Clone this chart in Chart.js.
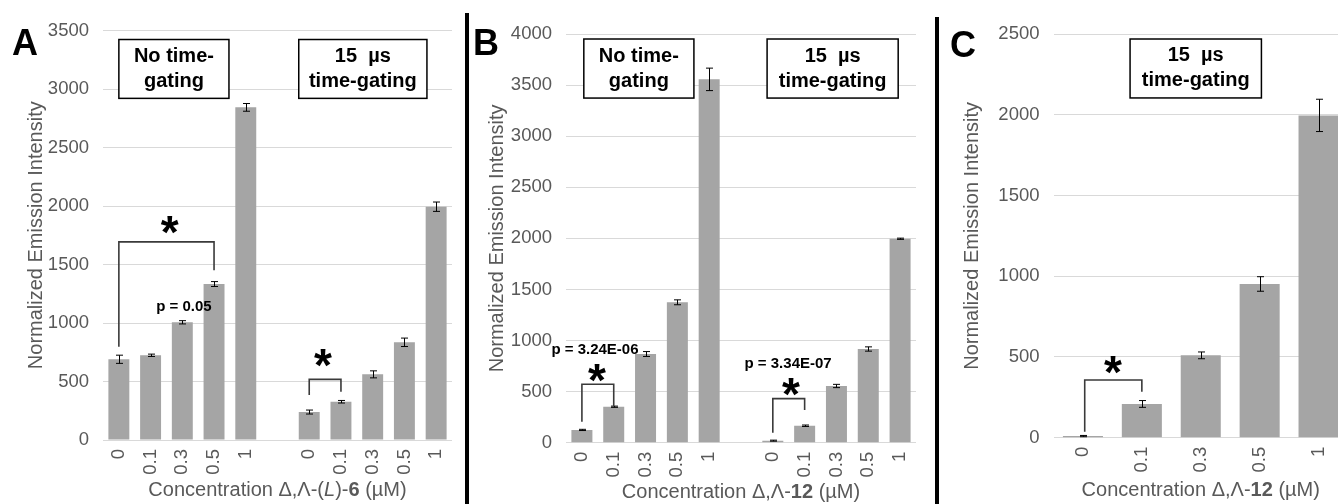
<!DOCTYPE html>
<html><head><meta charset="utf-8">
<script src="https://cdn.jsdelivr.net/npm/chart.js@4.4.1/dist/chart.umd.min.js"></script>
<style>
html,body{margin:0;padding:0;background:#fff;overflow:hidden;width:1338px;height:504px;position:relative;}
canvas{position:absolute;top:0;}
.sep{position:absolute;background:#000;width:4px;}
</style></head><body>
<canvas id="cA" width="460" height="504" style="left:0px"></canvas>
<canvas id="cB" width="460" height="504" style="left:460px"></canvas>
<canvas id="cC" width="420" height="504" style="left:930px"></canvas>
<div class="sep" style="left:465px;top:13px;height:491px"></div>
<div class="sep" style="left:935px;top:17px;height:487px"></div>
<script>
// ---------- data ----------
const categoriesAB = ['0','0.1','0.3','0.5','1','','0','0.1','0.3','0.5','1'];
const categoriesC = ['0','0.1','0.3','0.5','1'];
const valuesA = [690, 724, 1006, 1333, 2843, null, 239, 327, 561, 835, 1994];
const errorsA = [35, 10, 14, 21, 33, null, 17, 11, 30, 36, 40];
const valuesB = [125, 352, 868, 1374, 3556, null, 20, 166, 555, 917, 1996];
const errorsB = [6, 6, 24, 24, 110, null, 5, 7, 16, 21, 6];
const valuesC = [10, 209, 510, 952, 1996];
const errorsC = [4, 21, 21, 45, 100];
const yTicksA = [0, 500, 1000, 1500, 2000, 2500, 3000, 3500];
const yTicksB = [0, 500, 1000, 1500, 2000, 2500, 3000, 3500, 4000];
const yTicksC = [0, 500, 1000, 1500, 2000, 2500];
const yTitle = 'Normalized Emission Intensity';
const xTitleA = [['Concentration \u0394,\u039B-(', ''], ['L', 'italic'], [')-', ''], ['6', 'bold'], [' (\u00B5M)', '']];
const xTitleBC = [['Concentration \u0394,\u039B-', ''], ['12', 'bold'], [' (\u00B5M)', '']];

// ---------- annotations (category index / data value) ----------
const annA = {
  letter: 'A',
  boxes: [{lines: ['No time-', 'gating'], i0: 0.0, i1: 3.47, v0: 3423, v1: 2920},
          {lines: ['15  \u00B5s', 'time-gating'], i0: 5.67, i1: 9.71, v0: 3423, v1: 2920}],
  brackets: [{i0: 0, i1: 3, top: 1693, e0: 797, e1: 1451},
             {i0: 6, i1: 7, top: 518, e0: 384, e1: 412}],
  stars: [{i: 1.6, v: 1835}, {i: 6.43, v: 700}],
  pvals: [{text: 'p = 0.05', i: 2.05, v: 1135}]
};
const annB = {
  letter: 'B',
  boxes: [{lines: ['No time-', 'gating'], i0: 0.06, i1: 3.52, v0: 3951, v1: 3373},
          {lines: ['15  \u00B5s', 'time-gating'], i0: 5.82, i1: 9.94, v0: 3951, v1: 3373}],
  brackets: [{i0: 0, i1: 1, top: 572, e0: 205, e1: 359},
             {i0: 6, i1: 7, top: 431, e0: 98, e1: 320}],
  stars: [{i: 0.47, v: 685}, {i: 6.57, v: 548}],
  pvals: [{text: 'p = 3.24E-06', i: 0.41, v: 907}, {text: 'p = 3.34E-07', i: 6.48, v: 770}]
};
const annC = {
  letter: 'C',
  boxes: [{lines: ['15  \u00B5s', 'time-gating'], i0: 0.80, i1: 3.03, v0: 2469, v1: 2104}],
  brackets: [{i0: 0.03, i1: 1, top: 357, e0: 37, e1: 285}],
  stars: [{i: 0.51, v: 450}],
  pvals: []
};

const FAM = '"Liberation Sans", Arial, sans-serif';
const GRAY = '#595959';

const drawPlugin = {
  id: 'extras',
  afterDatasetsDraw(chart) {
    const o = chart.options.plugins.extras;
    const ctx = chart.ctx, ys = chart.scales.y;
    const meta = chart.getDatasetMeta(0);
    ctx.save();
    ctx.strokeStyle = '#000'; ctx.lineWidth = 1;
    o.errors.forEach((e, i) => {
      const v = chart.data.datasets[0].data[i];
      if (e == null || v == null) return;
      const x = Math.round(meta.data[i].x) + 0.5;
      const yt = ys.getPixelForValue(v + e), yb = ys.getPixelForValue(v - e);
      ctx.beginPath();
      ctx.moveTo(x, yt); ctx.lineTo(x, yb);
      ctx.moveTo(x - 3.5, yt); ctx.lineTo(x + 3.5, yt);
      ctx.moveTo(x - 3.5, yb); ctx.lineTo(x + 3.5, yb);
      ctx.stroke();
    });
    ctx.restore();
  },
  afterDraw(chart) {
    const o = chart.options.plugins.extras;
    const a = o.ann;
    const ctx = chart.ctx, xs = chart.scales.x, ys = chart.scales.y;
    const X = i => xs.getPixelForValue(i), Y = v => ys.getPixelForValue(v);
    ctx.save();
    ctx.fillStyle = '#000';
    ctx.font = 'bold 36px ' + FAM;
    ctx.textAlign = 'left'; ctx.textBaseline = 'alphabetic';
    ctx.fillText(a.letter, o.letterX, o.letterY);
    a.boxes.forEach(b => {
      const x0 = X(b.i0), x1 = X(b.i1), y0 = Y(b.v0), y1 = Y(b.v1);
      ctx.fillStyle = '#fff';
      ctx.fillRect(x0, y0, x1 - x0, y1 - y0);
      ctx.strokeStyle = '#000'; ctx.lineWidth = 1.5;
      ctx.strokeRect(x0, y0, x1 - x0, y1 - y0);
      ctx.fillStyle = '#000';
      ctx.font = 'bold 20px ' + FAM;
      ctx.textAlign = 'center'; ctx.textBaseline = 'middle';
      const cx = (x0 + x1) / 2, cy = (y0 + y1) / 2;
      const n = b.lines.length;
      b.lines.forEach((t, k) => ctx.fillText(t, cx, cy + (k - (n - 1) / 2) * 25));
    });
    ctx.strokeStyle = '#3a3a3a'; ctx.lineWidth = 1.6;
    a.brackets.forEach(b => {
      const x0 = X(b.i0), x1 = X(b.i1), yt = Y(b.top);
      ctx.beginPath();
      ctx.moveTo(x0, Y(b.e0)); ctx.lineTo(x0, yt); ctx.lineTo(x1, yt); ctx.lineTo(x1, Y(b.e1));
      ctx.stroke();
    });
    ctx.fillStyle = '#000';
    ctx.font = 'bold 46px ' + FAM;
    ctx.textAlign = 'center'; ctx.textBaseline = 'alphabetic';
    a.stars.forEach(s => {
      const m = ctx.measureText('*');
      ctx.fillText('*', X(s.i), Y(s.v) + (m.actualBoundingBoxAscent - m.actualBoundingBoxDescent) / 2);
    });
    ctx.font = 'bold 15px ' + FAM;
    ctx.textBaseline = 'middle';
    a.pvals.forEach(p => ctx.fillText(p.text, X(p.i), Y(p.v)));
    const segs = o.xTitle;
    const fontOf = st => (st === 'bold' ? 'bold ' : st === 'italic' ? 'italic ' : '') + '20px ' + FAM;
    let total = 0;
    segs.forEach(([t, st]) => { ctx.font = fontOf(st); total += ctx.measureText(t).width; });
    let x = (chart.chartArea.left + chart.chartArea.right) / 2 - total / 2;
    ctx.fillStyle = GRAY; ctx.textAlign = 'left'; ctx.textBaseline = 'middle';
    segs.forEach(([t, st]) => { ctx.font = fontOf(st); ctx.fillText(t, x, o.xTitleY); x += ctx.measureText(t).width; });
    ctx.restore();
  }
};

function makeChart(id, labels, values, errors, yTicks, ann, cfg) {
  return new Chart(document.getElementById(id), {
    type: 'bar',
    data: {labels: labels, datasets: [{data: values, backgroundColor: '#a5a5a5', borderWidth: 0,
      categoryPercentage: 1, barPercentage: cfg.barPct}]},
    options: {
      responsive: false, animation: false, events: [],
      layout: {padding: {left: 0, right: cfg.padRight, top: cfg.padTop, bottom: 0}},
      plugins: {legend: {display: false}, tooltip: {enabled: false},
        extras: {ann: ann, errors: errors, xTitle: cfg.xTitle, xTitleY: cfg.xTitleY, letterX: cfg.letterX, letterY: cfg.letterY}},
      scales: {
        x: {grid: {display: false, drawTicks: false}, border: {display: false},
            ticks: {autoSkip: false, minRotation: 90, maxRotation: 90, padding: 9, color: GRAY,
                    font: {family: FAM, size: 18.5}},
            afterFit(s) { s.height = cfg.xHeight; s.paddingLeft = 0; s.paddingRight = 0; }},
        y: {min: yTicks[0], max: yTicks[yTicks.length - 1],
            ticks: {stepSize: yTicks[1] - yTicks[0], padding: 14, color: GRAY, font: {family: FAM, size: 18.5},
                    callback: v => String(v)},
            grid: {color: '#d9d9d9', lineWidth: 1, drawTicks: false}, border: {display: false},
            title: {display: true, text: yTitle, color: GRAY, font: {family: FAM, size: 20}, padding: {top: cfg.yTitlePad, bottom: 0}},
            afterFit(s) { s.width = cfg.yWidth; s.paddingTop = 0; s.paddingBottom = 0; }}
      }
    },
    plugins: [drawPlugin]
  });
}

makeChart('cA', categoriesAB, valuesA, errorsA, yTicksA, annA,
  {barPct: 0.66, padRight: 8, padTop: 30.5, xHeight: 64, yWidth: 103, yTitlePad: 24,
   xTitle: xTitleA, xTitleY: 490, letterX: 12, letterY: 55});
makeChart('cB', categoriesAB, valuesB, errorsB, yTicksB, annB,
  {barPct: 0.66, padRight: 4, padTop: 34, xHeight: 61.3, yWidth: 106, yTitlePad: 25,
   xTitle: xTitleBC, xTitleY: 492, letterX: 13, letterY: 55});
makeChart('cC', categoriesC, valuesC, errorsC, yTicksC, annC,
  {barPct: 0.68, padRight: 2, padTop: 34, xHeight: 66.3, yWidth: 123.5, yTitlePad: 30,
   xTitle: xTitleBC, xTitleY: 490, letterX: 20, letterY: 57});
</script>
</body></html>
